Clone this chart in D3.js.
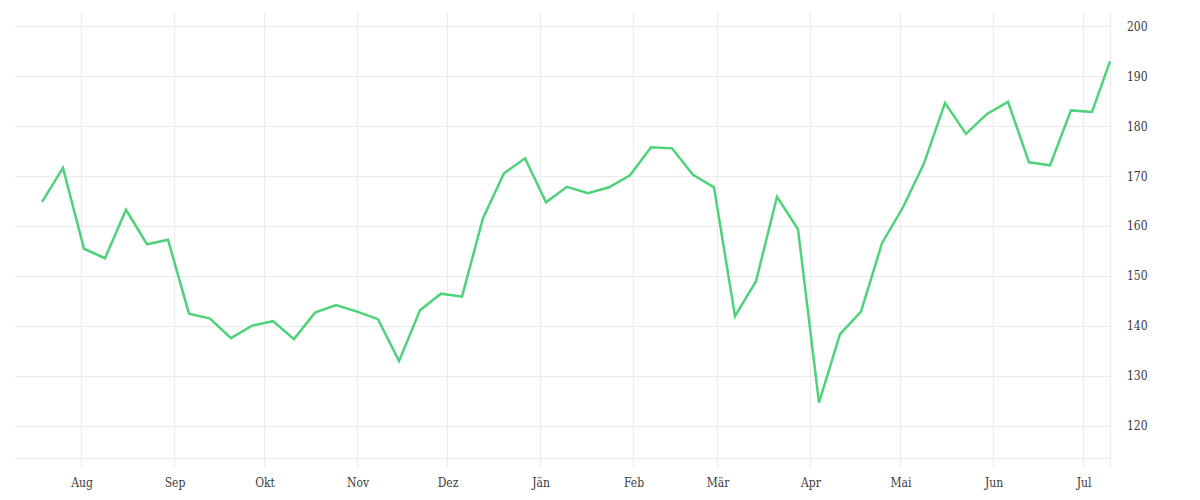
<!DOCTYPE html>
<html>
<head>
<meta charset="utf-8">
<script src="https://cdn.jsdelivr.net/npm/d3@7"></script>
<style>
  body { margin: 0; background: #fff; }
  svg text { font-family: "DejaVu Serif Condensed", "DejaVu Serif", serif; font-size: 12px; fill: #3a3a3a; }
</style>
</head>
<body>
<svg id="chart" width="1200" height="500"></svg>
<script>
// weekly values
let dates = [
  "2018-07-19","2018-07-26","2018-08-02","2018-08-09","2018-08-16","2018-08-23","2018-08-30",
  "2018-09-06","2018-09-13","2018-09-20","2018-09-27","2018-10-04","2018-10-11","2018-10-18",
  "2018-10-25","2018-11-01","2018-11-08","2018-11-15","2018-11-22","2018-11-29","2018-12-06",
  "2018-12-13","2018-12-20","2018-12-27","2019-01-03","2019-01-10","2019-01-17","2019-01-24",
  "2019-01-31","2019-02-07","2019-02-14","2019-02-21","2019-02-28","2019-03-07","2019-03-14",
  "2019-03-21","2019-03-28","2019-04-04","2019-04-11","2019-04-18","2019-04-25","2019-05-02",
  "2019-05-09","2019-05-16","2019-05-23","2019-05-30","2019-06-06","2019-06-13","2019-06-20",
  "2019-06-27","2019-07-04","2019-07-10"
];
let values = [
  164.9, 171.7, 155.5, 153.6, 163.3, 156.4, 157.3,
  142.5, 141.5, 137.6, 140.1, 141.0, 137.4, 142.7,
  144.2, 142.9, 141.4, 133.0, 143.2, 146.5, 145.9,
  161.6, 170.6, 173.6, 164.8, 167.9, 166.6, 167.8,
  170.2, 175.8, 175.6, 170.3, 167.8, 142.0, 149.0,
  165.9, 159.4, 124.7, 138.4, 142.9, 156.6, 163.8,
  172.6, 184.7, 178.5, 182.5, 184.9, 172.8, 172.2,
  183.2, 182.9, 193.0
];
let xDomain = ["2018-07-10", "2019-07-10"];
let yDomain = [113.6, 202.9];
let monthNames = ["Jän","Feb","Mär","Apr","Mai","Jun","Jul","Aug","Sep","Okt","Nov","Dez"];

let margin = { top: 12, right: 90, bottom: 42, left: 15 };
let svg = d3.select("#chart");
let width = 1200 - margin.left - margin.right;
let height = 500 - margin.top - margin.bottom;
let parse = d3.timeParse("%Y-%m-%d");

let data = dates.map((d, i) => ({ date: parse(d), value: values[i] }));

let x = d3.scaleTime()
  .domain(xDomain.map(parse))
  .range([0, width]);
let y = d3.scaleLinear()
  .domain(yDomain)
  .range([height, 0]);

let g = svg.append("g")
  .attr("transform", "translate(" + margin.left + "," + margin.top + ")");

let gridColor = "#ebebeb";

// horizontal grid + bottom line
g.selectAll(".hgrid")
  .data(y.ticks(10).concat([yDomain[0]]))
  .enter().append("line")
  .attr("x1", 0).attr("x2", width)
  .attr("y1", d => Math.round(y(d)) + 0.5)
  .attr("y2", d => Math.round(y(d)) + 0.5)
  .attr("stroke", gridColor);

// vertical month grid
let months = d3.timeMonth.range(x.domain()[0], x.domain()[1]);
g.selectAll(".vgrid")
  .data(months)
  .enter().append("line")
  .attr("x1", d => Math.round(x(d)) + 0.5)
  .attr("x2", d => Math.round(x(d)) + 0.5)
  .attr("y1", 0).attr("y2", height + 10)
  .attr("stroke", gridColor);

// right edge line
g.append("line")
  .attr("x1", width + 0.5).attr("x2", width + 0.5)
  .attr("y1", 0).attr("y2", height + 10)
  .attr("stroke", gridColor);

// month labels
g.selectAll(".mlabel")
  .data(months)
  .enter().append("text")
  .attr("x", d => x(d) + 1)
  .attr("y", height + 29)
  .attr("text-anchor", "middle")
  .text(d => monthNames[d.getMonth()]);

// y labels
g.selectAll(".ylabel")
  .data(y.ticks(10))
  .enter().append("text")
  .attr("x", width + 17)
  .attr("y", d => y(d))
  .attr("dy", "0.35em")
  .text(d => d);

let line = d3.line()
  .x(d => x(d.date))
  .y(d => y(d.value));

g.append("path")
  .datum(data)
  .attr("fill", "none")
  .attr("stroke", "#4ed27a")
  .attr("stroke-width", 2.5)
  .attr("stroke-linejoin", "miter")
  .attr("d", line);
</script>
</body>
</html>
